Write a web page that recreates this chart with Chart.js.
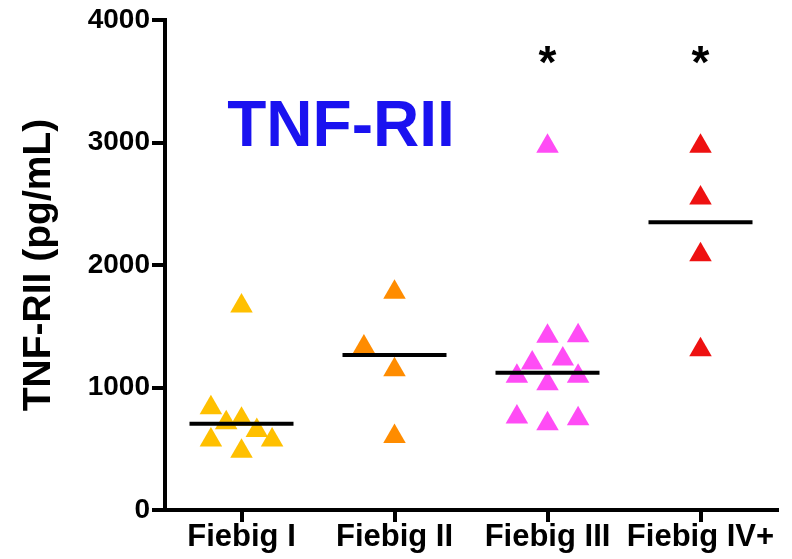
<!DOCTYPE html>
<html>
<head>
<meta charset="utf-8">
<script src="https://cdn.jsdelivr.net/npm/chart.js@4.4.0/dist/chart.umd.min.js"></script>
<style>
  html, body { margin: 0; padding: 0; background: #fff; }
  #localGrafico { width: 792px; height: 559px; }
</style>
</head>
<body>
<div id="localGrafico"><canvas id="grafico"></canvas></div>
<script>
// grupos do eixo x
const categorias = ['Fiebig I', 'Fiebig II', 'Fiebig III', 'Fiebig IV+'];

// valores de TNF-RII (pg/mL) por grupo e o deslocamento horizontal de cada ponto
const fiebigI = [1665, 835, 713, 740, 648, 571, 571, 479];
const fiebigIDesloc = [0, -0.2, -0.1, 0, 0.1, -0.2, 0.2, 0];
const fiebigII = [1777, 1330, 1145, 601];
const fiebigIIDesloc = [0, -0.2, 0, 0];
const fiebigIII = [2970, 1418, 1423, 1233, 1200, 1091, 1091, 1031, 759, 705, 745];
const fiebigIIIDesloc = [0, 0, 0.2, 0.1, -0.1, -0.2, 0.2, 0, -0.2, 0, 0.2];
const fiebigIV = [2970, 2547, 2084, 1309];
const fiebigIVDesloc = [0, 0, 0, 0];

// mediana de cada grupo
const medianas = [705, 1265, 1120, 2350];
// grupos marcados com asterisco e altura do asterisco
const significativo = [false, false, true, true];
const alturaAsterisco = 3740;

const valoresY = [0, 1000, 2000, 3000, 4000];
const cores = ['#FFC000', '#FF8C00', '#FF4CF5', '#EE1111'];

const fonte = '"Liberation Sans", Arial, sans-serif';

function pontos(valores, desloc, grupo) {
    return valores.map((v, i) => ({ x: grupo + desloc[i], y: v }));
}

const grupos = [
    [fiebigI, fiebigIDesloc],
    [fiebigII, fiebigIIDesloc],
    [fiebigIII, fiebigIIIDesloc],
    [fiebigIV, fiebigIVDesloc]
];

// linha da mediana vem primeiro para ficar por cima dos triângulos
const datasets = [{
    label: 'Mediana',
    data: medianas.map((m, i) => ({ x: i, y: m })),
    pointStyle: 'line',
    pointRadius: 52,
    pointBorderWidth: 4,
    borderColor: '#000',
    backgroundColor: '#000'
}];
grupos.forEach(([valores, desloc], i) => {
    datasets.push({
        label: categorias[i],
        data: pontos(valores, desloc, i),
        pointStyle: 'triangle',
        pointRadius: 13,
        pointBorderWidth: 0,
        backgroundColor: cores[i],
        borderColor: cores[i]
    });
});

// título azul e asteriscos
const textoExtra = {
    id: 'textoExtra',
    afterDatasetsDraw(chart) {
        const { ctx, scales: { x, y } } = chart;
        ctx.save();
        ctx.textAlign = 'center';
        ctx.textBaseline = 'alphabetic';
        ctx.fillStyle = '#1A12F0';
        ctx.font = 'bold 64px ' + fonte;
        ctx.fillText('TNF-RII', 341, 146);
        ctx.fillStyle = '#000';
        ctx.font = 'bold 46px ' + fonte;
        significativo.forEach((s, i) => {
            if (s) ctx.fillText('*', x.getPixelForValue(i), y.getPixelForValue(alturaAsterisco) + 26);
        });
        ctx.restore();
    }
};

const config = {
    type: 'scatter',
    data: { datasets: datasets },
    options: {
        responsive: true,
        maintainAspectRatio: false,
        animation: false,
        layout: { autoPadding: false, padding: { left: 0, right: 15, top: 20, bottom: 0 } },
        plugins: {
            legend: { display: false },
            tooltip: { enabled: false }
        },
        scales: {
            x: {
                type: 'linear',
                min: -0.5,
                max: 3.5,
                afterBuildTicks: (scale) => { scale.ticks = categorias.map((c, i) => ({ value: i })); },
                afterFit: (scale) => { scale.height = 49; },
                ticks: {
                    callback: (v) => categorias[v],
                    color: '#000',
                    font: { family: fonte, size: 31, weight: 'bold' },
                    padding: -3,
                    maxRotation: 0,
                    autoSkip: false
                },
                grid: { drawOnChartArea: false, drawTicks: true, tickLength: 12, color: '#000', lineWidth: 4 },
                border: { color: '#000', width: 4 }
            },
            y: {
                min: 0,
                max: 4000,
                afterBuildTicks: (scale) => { scale.ticks = valoresY.map(v => ({ value: v })); },
                afterFit: (scale) => { scale.width = 165; },
                ticks: {
                    callback: (v) => String(v),
                    color: '#000',
                    font: { family: fonte, size: 28, weight: 'bold' },
                    padding: 2
                },
                title: {
                    display: true,
                    text: 'TNF-RII (pg/mL)',
                    color: '#000',
                    font: { family: fonte, size: 39, weight: 'bold' },
                    padding: { top: 16, bottom: 0 }
                },
                grid: { drawOnChartArea: false, drawTicks: true, tickLength: 13, color: '#000', lineWidth: 4 },
                border: { color: '#000', width: 4 }
            }
        }
    },
    plugins: [textoExtra]
};

new Chart(document.getElementById('grafico'), config);
</script>
</body>
</html>
